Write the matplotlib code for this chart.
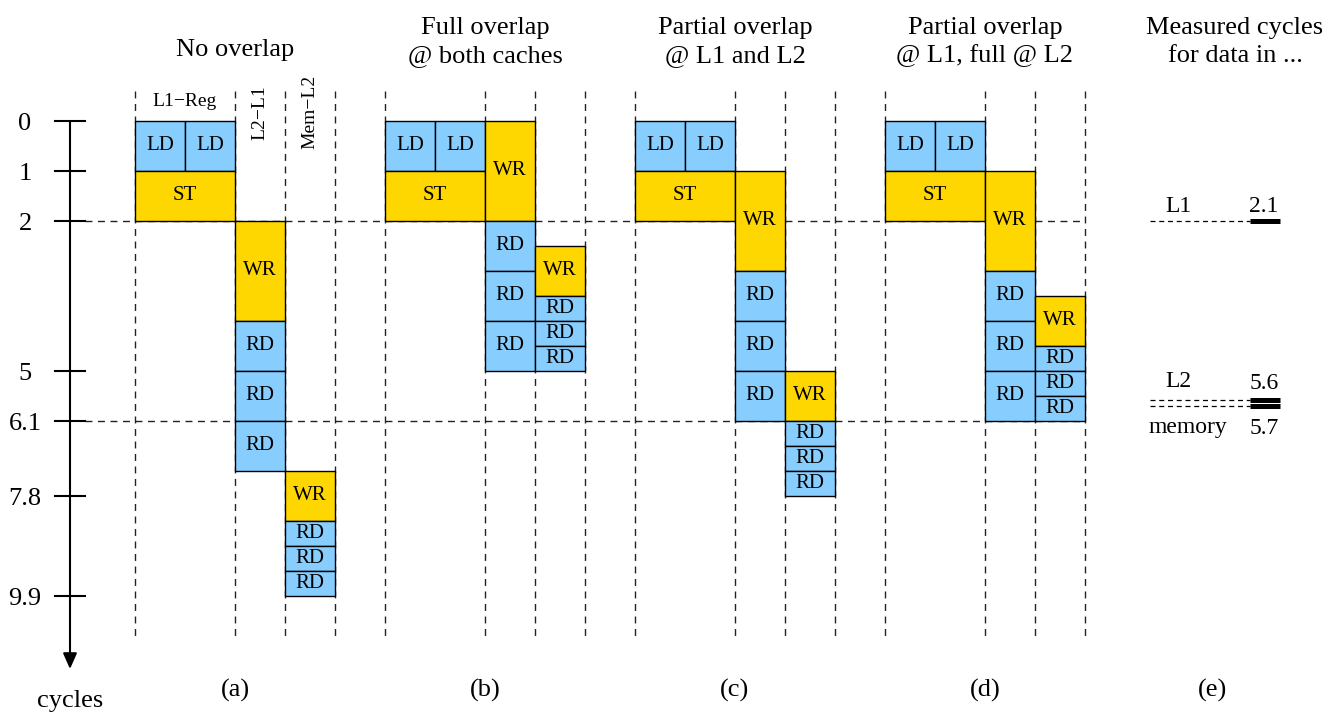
import matplotlib.pyplot as plt
from matplotlib.patches import Rectangle

plt.rcParams['font.family'] = ['Liberation Serif', 'DejaVu Serif']

# ---- data ----
titles = [['No overlap'],
          ['Full overlap', '@ both caches'],
          ['Partial overlap', '@ L1 and L2'],
          ['Partial overlap', '@ L1, full @ L2'],
          ['Measured cycles', 'for data in ...']]
tags = ['(a)', '(b)', '(c)', '(d)', '(e)']
col_heads = ['L1\u2212Reg', 'L2\u2212L1', 'Mem\u2212L2']

# same sequence of operations in every scenario
ops = ['LD', 'LD', 'ST', 'WR', 'RD', 'RD', 'RD', 'WR', 'RD', 'RD', 'RD']
op_col = [0, 1, 0, 2, 2, 2, 2, 3, 3, 3, 3]
op_span = [1, 1, 2, 1, 1, 1, 1, 1, 1, 1, 1]
op_len = [1, 1, 1, 2, 1, 1, 1, 1, 0.5, 0.5, 0.5]
start_a = [0, 0, 1, 2, 4, 5, 6, 7, 8, 8.5, 9]
start_b = [0, 0, 1, 0, 2, 3, 4, 2.5, 3.5, 4, 4.5]
start_c = [0, 0, 1, 1, 3, 4, 5, 5, 6, 6.5, 7]
start_d = [0, 0, 1, 1, 3, 4, 5, 3.5, 4.5, 5, 5.5]
starts = [start_a, start_b, start_c, start_d]

tick_pos = [0, 1, 2, 5, 6, 7.5, 9.5]
tick_lab = ['0', '1', '2', '5', '6.1', '7.8', '9.9']

meas_names = ['L1', 'L2', 'memory']
meas_vals = [2.1, 5.6, 5.7]

# ---- layout ----
meas_level = [2.0, 5.59, 5.71]
name_x = [20.86, 20.86, 21.06]
name_y = [1.82, 5.32, 6.24]
val_y = [1.82, 5.36, 6.26]

colors = {'LD': '#87CEFF', 'RD': '#87CEFF', 'ST': '#FFD700', 'WR': '#FFD700'}
PANEL = 5
dash = dict(color='#222222', lw=1.0, dashes=(5, 4))

fig = plt.figure(figsize=(13.4, 7.12), dpi=100)
ax = fig.add_axes([0, 0, 1, 1])
ax.set_xlim(-2.7, 24.1)
ax.set_ylim(11.82, -2.42)
ax.axis('off')

# horizontal guides
for y in (2, 6):
    ax.plot([-1.0, 19.0], [y, y], zorder=1, **dash)

for p in range(4):
    x0 = p * PANEL
    for c in (0, 2, 3, 4):
        ax.plot([x0 + c, x0 + c], [-0.6, 10.4], zorder=1, **dash)
    for op, c, w, s, h in zip(ops, op_col, op_span, starts[p], op_len):
        ax.add_patch(Rectangle((x0 + c, s), w, h, facecolor=colors[op],
                               edgecolor='black', lw=1.0, zorder=2))
        ax.text(x0 + c + w / 2, s + h / 2, op, ha='center', va='center',
                fontsize=15, zorder=3)
    t = titles[p]
    if len(t) == 1:
        ax.text(x0 + 2, -1.3, t[0], ha='center', va='baseline', fontsize=19)
    else:
        ax.text(x0 + 2, -1.74, t[0], ha='center', va='baseline', fontsize=19)
        ax.text(x0 + 2, -1.17, t[1], ha='center', va='baseline', fontsize=19)
    ax.text(x0 + 2, 11.52, tags[p], ha='center', va='baseline', fontsize=19)

# column headers
ax.text(1, -0.38, col_heads[0], ha='center', va='center', fontsize=14)
ax.text(2.5, -0.16, col_heads[1], ha='center', va='center', fontsize=14, rotation=90)
ax.text(3.5, -0.18, col_heads[2], ha='center', va='center', fontsize=14, rotation=90)

# cycle axis
ax.annotate('', xy=(-1.3, 10.96), xytext=(-1.3, 0),
            arrowprops=dict(arrowstyle='-|>,head_length=0.95,head_width=0.42',
                            lw=1.5, color='black', shrinkA=0, shrinkB=0))
for t, lab in zip(tick_pos, tick_lab):
    ax.plot([-1.6, -1.0], [t, t], color='black', lw=1.5)
    ax.text(-2.2, t + 0.06, lab, ha='center', va='center', fontsize=19)
ax.text(-1.3, 11.72, 'cycles', ha='center', va='baseline', fontsize=19)

# measured cycles
ax.text(22.0, -1.74, titles[4][0], ha='center', va='baseline', fontsize=19)
ax.text(22.0, -1.17, titles[4][1], ha='center', va='baseline', fontsize=19)
ax.text(21.56, 11.52, tags[4], ha='center', va='baseline', fontsize=19)
for name, val, lvl, nx, ny, vy in zip(meas_names, meas_vals, meas_level,
                                      name_x, name_y, val_y):
    ax.plot([20.3, 22.3], [lvl, lvl], color='black', lw=0.9, dashes=(4, 3))
    ax.plot([22.3, 22.9], [lvl, lvl], color='black', lw=3.6, solid_capstyle='butt')
    ax.text(nx, ny, name, ha='center', va='baseline', fontsize=17)
    ax.text(22.58, vy, f'{val:.1f}', ha='center', va='baseline', fontsize=17)

fig.savefig('out.png', dpi=100)
